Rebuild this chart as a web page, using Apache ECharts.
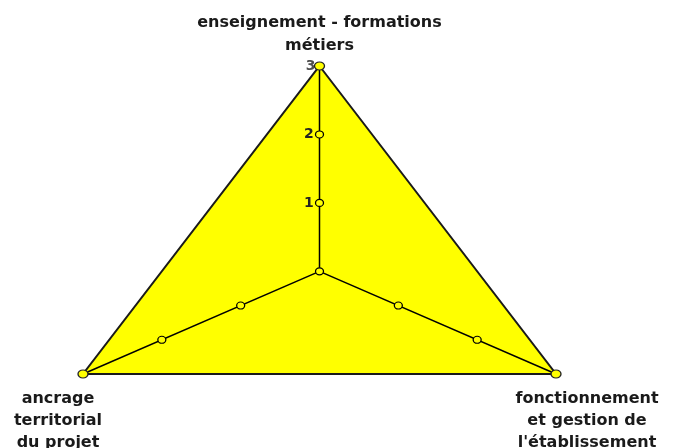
<!DOCTYPE html>
<html><head><meta charset="utf-8">
<script src="https://cdn.jsdelivr.net/npm/echarts@6/dist/echarts.min.js"></script>
<style>html,body{margin:0;padding:0;background:#fff}#c{width:673px;height:448px}</style>
</head><body><div id="c"></div>
<script>
// ---- data ----
const categories = ['enseignement - formations\nmétiers', 'fonctionnement\net gestion de\nl\'établissement', 'ancrage\nterritorial\ndu projet'];
const values = [3, 3, 3];
const tickValues = [0, 1, 2, 3];
const tickLabels = ['', '1', '2', '3'];
const maxValue = 3;

// ---- helpers: polar (value, axis index) -> cartesian in data units ----
function angleOf(i) { return (90 - i * 360 / categories.length) * Math.PI / 180; }
function toXY(v, i) { return [v * Math.cos(angleOf(i)), v * Math.sin(angleOf(i))]; }

const xExt = maxValue * Math.cos(30 * Math.PI / 180);
const yMin = -maxValue * Math.sin(30 * Math.PI / 180);

const chart = echarts.init(document.getElementById('c'));
const font = '"DejaVu Sans", Verdana, sans-serif';

const series = [];
// filled polygon
series.push({
  type: 'custom', z: 1, silent: true,
  data: [0],
  renderItem: function (params, api) {
    const pts = values.map((v, i) => api.coord(toXY(v, i)));
    return { type: 'polygon', shape: { points: pts },
      style: { fill: '#FFFF00', stroke: '#1a1a1a', lineWidth: 2 } };
  }
});
// spokes
categories.forEach((c, i) => {
  series.push({
    type: 'line', z: 2, symbol: 'none', silent: true,
    data: [[0, 0], toXY(maxValue, i)],
    lineStyle: { color: '#000', width: 1.5 }
  });
});
// tick markers
const tickData = [];
categories.forEach((c, i) => {
  tickValues.forEach((t, k) => {
    if (t === 0 && i > 0) return;
    if (t === maxValue) return;
    tickData.push({ value: toXY(t, i), label: { show: i === 0 && tickLabels[k] !== '', formatter: tickLabels[k] } });
  });
});
series.push({
  type: 'scatter', z: 4, symbol: 'circle', symbolSize: [8, 7],
  itemStyle: { color: '#FFFF00', borderColor: '#000', borderWidth: 1.2, opacity: 1 },
  label: { position: 'left', distance: 1, color: '#222', fontFamily: font, fontWeight: 'bold', fontSize: 14 },
  data: tickData
});
// vertices with category labels
const pos = ['top', 'bottom', 'bottom'];
const offs = [[0, 0], [31, 0], [-25, 0]];
series.push({
  type: 'scatter', z: 5, symbol: 'circle', symbolSize: [10, 8],
  itemStyle: { color: '#FFFF00', borderColor: '#222', borderWidth: 1.2, opacity: 1 },
  data: values.map((v, i) => ({
    value: toXY(v, i),
    label: {
      show: true, formatter: categories[i], position: pos[i], offset: offs[i],
      distance: i === 0 ? 4 : 9,
      color: '#1a1a1a', fontFamily: font, fontWeight: 'bold', fontSize: 16,
      lineHeight: i === 0 ? 23 : 22, align: 'center'
    }
  }))
});
// "3" label on top vertex
series.push({
  type: 'scatter', z: 6, symbolSize: 0, silent: true,
  data: [{ value: toXY(maxValue, 0) }],
  label: { show: true, formatter: tickLabels[tickLabels.length - 1], position: 'left', distance: 4,
    color: '#222', fontFamily: font, fontWeight: 'bold', fontSize: 14 }
});

chart.setOption({
  animation: false,
  grid: { left: 83, right: 117, top: 66, bottom: 74 },
  xAxis: { type: 'value', min: -xExt, max: xExt, show: false },
  yAxis: { type: 'value', min: yMin, max: maxValue, show: false },
  series: series
});
</script></body></html>
